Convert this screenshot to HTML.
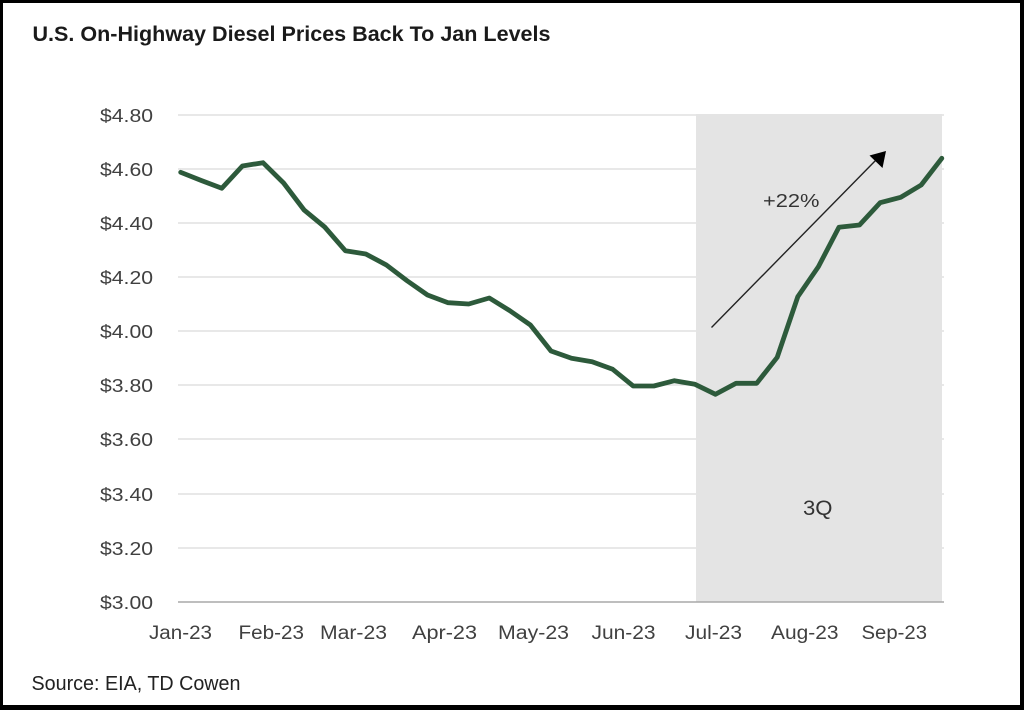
<!DOCTYPE html>
<html>
<head>
<meta charset="utf-8">
<style>
  html, body { margin: 0; padding: 0; background: #000; }
  body { width: 1024px; height: 710px; overflow: hidden; position: relative; }
  svg { display: block; }
</style>
</head>
<body>
<svg width="1024" height="710" viewBox="0 0 1024 710" xmlns="http://www.w3.org/2000/svg">
  <rect x="0" y="0" width="1024" height="710" fill="#000"/>
  <rect x="3" y="3" width="1017" height="702" fill="#fff"/>

  <!-- Title -->
  <text x="32.5" y="41" font-family="Liberation Sans, sans-serif" font-weight="bold" font-size="21" fill="#1a1a1a" textLength="518" lengthAdjust="spacingAndGlyphs">U.S. On-Highway Diesel Prices Back To Jan Levels</text>

  <!-- Gridlines -->
  <g stroke="#d9d9d9" stroke-width="1.2">
    <line x1="178" y1="115" x2="944" y2="115"/>
    <line x1="178" y1="169" x2="944" y2="169"/>
    <line x1="178" y1="223" x2="944" y2="223"/>
    <line x1="178" y1="277" x2="944" y2="277"/>
    <line x1="178" y1="331" x2="944" y2="331"/>
    <line x1="178" y1="385" x2="944" y2="385"/>
    <line x1="178" y1="439" x2="944" y2="439"/>
    <line x1="178" y1="494" x2="944" y2="494"/>
    <line x1="178" y1="548" x2="944" y2="548"/>
  </g>

  <!-- Shaded 3Q region -->
  <rect x="696" y="114" width="246" height="488" fill="#e4e4e4"/>

  <!-- Axis line -->
  <line x1="178" y1="602" x2="944" y2="602" stroke="#a8a8a8" stroke-width="1.5"/>

  <!-- Y labels -->
  <g font-family="Liberation Sans, sans-serif" font-size="18.5" fill="#404040" text-anchor="end">
    <text x="153" y="122" textLength="53" lengthAdjust="spacingAndGlyphs">$4.80</text>
    <text x="153" y="176" textLength="53" lengthAdjust="spacingAndGlyphs">$4.60</text>
    <text x="153" y="230" textLength="53" lengthAdjust="spacingAndGlyphs">$4.40</text>
    <text x="153" y="284" textLength="53" lengthAdjust="spacingAndGlyphs">$4.20</text>
    <text x="153" y="338" textLength="53" lengthAdjust="spacingAndGlyphs">$4.00</text>
    <text x="153" y="392" textLength="53" lengthAdjust="spacingAndGlyphs">$3.80</text>
    <text x="153" y="446" textLength="53" lengthAdjust="spacingAndGlyphs">$3.60</text>
    <text x="153" y="501" textLength="53" lengthAdjust="spacingAndGlyphs">$3.40</text>
    <text x="153" y="555" textLength="53" lengthAdjust="spacingAndGlyphs">$3.20</text>
    <text x="153" y="609" textLength="53" lengthAdjust="spacingAndGlyphs">$3.00</text>
  </g>

  <!-- X labels -->
  <g font-family="Liberation Sans, sans-serif" font-size="19" fill="#404040">
    <text x="149" y="639" textLength="63" lengthAdjust="spacingAndGlyphs">Jan-23</text>
    <text x="238.5" y="639" textLength="65.5" lengthAdjust="spacingAndGlyphs">Feb-23</text>
    <text x="320" y="639" textLength="67" lengthAdjust="spacingAndGlyphs">Mar-23</text>
    <text x="412" y="639" textLength="65" lengthAdjust="spacingAndGlyphs">Apr-23</text>
    <text x="498" y="639" textLength="71" lengthAdjust="spacingAndGlyphs">May-23</text>
    <text x="591.5" y="639" textLength="64" lengthAdjust="spacingAndGlyphs">Jun-23</text>
    <text x="685" y="639" textLength="57" lengthAdjust="spacingAndGlyphs">Jul-23</text>
    <text x="771" y="639" textLength="67.5" lengthAdjust="spacingAndGlyphs">Aug-23</text>
    <text x="861.5" y="639" textLength="65.5" lengthAdjust="spacingAndGlyphs">Sep-23</text>
  </g>

  <!-- Arrow -->
  <line x1="711.5" y1="327.5" x2="876" y2="160" stroke="#222" stroke-width="1.4"/>
  <polygon points="886,151 882.5,168 869.5,155.5" fill="#000"/>

  <!-- +22% -->
  <text x="763" y="207" font-family="Liberation Sans, sans-serif" font-size="18.5" fill="#333" textLength="56.5" lengthAdjust="spacingAndGlyphs">+22%</text>

  <!-- 3Q -->
  <text x="803" y="515" font-family="Liberation Sans, sans-serif" font-size="21" fill="#333" textLength="29.5" lengthAdjust="spacingAndGlyphs">3Q</text>

  <!-- Data line -->
  <polyline fill="none" stroke="#2d5a3b" stroke-width="4.8" stroke-linejoin="round" stroke-linecap="round"
    points="180.7,172.3 201.3,180.5 221.8,188.3 242.4,166 263,162.7 283.6,183 304.1,210 324.7,227 345.3,250.7 365.8,254 386.4,265 407,280.7 427.5,295 448.1,302.7 468.7,304 489.3,298 509.8,310.7 530.4,325 551,351 571.5,358.3 592.1,361.7 612.7,369.3 633.2,386 653.8,386 674.4,380.7 695,384.3 715.5,394.3 736.1,383.3 756.7,383.3 777.2,357.3 797.8,296.7 818.4,266.7 838.9,227.3 859.5,225 880.1,202.7 900.7,197.3 921.2,185 941.8,158.3"/>

  <!-- Source -->
  <text x="31.5" y="690" font-family="Liberation Sans, sans-serif" font-size="20" fill="#222" textLength="209" lengthAdjust="spacingAndGlyphs">Source: EIA, TD Cowen</text>
</svg>
</body>
</html>
